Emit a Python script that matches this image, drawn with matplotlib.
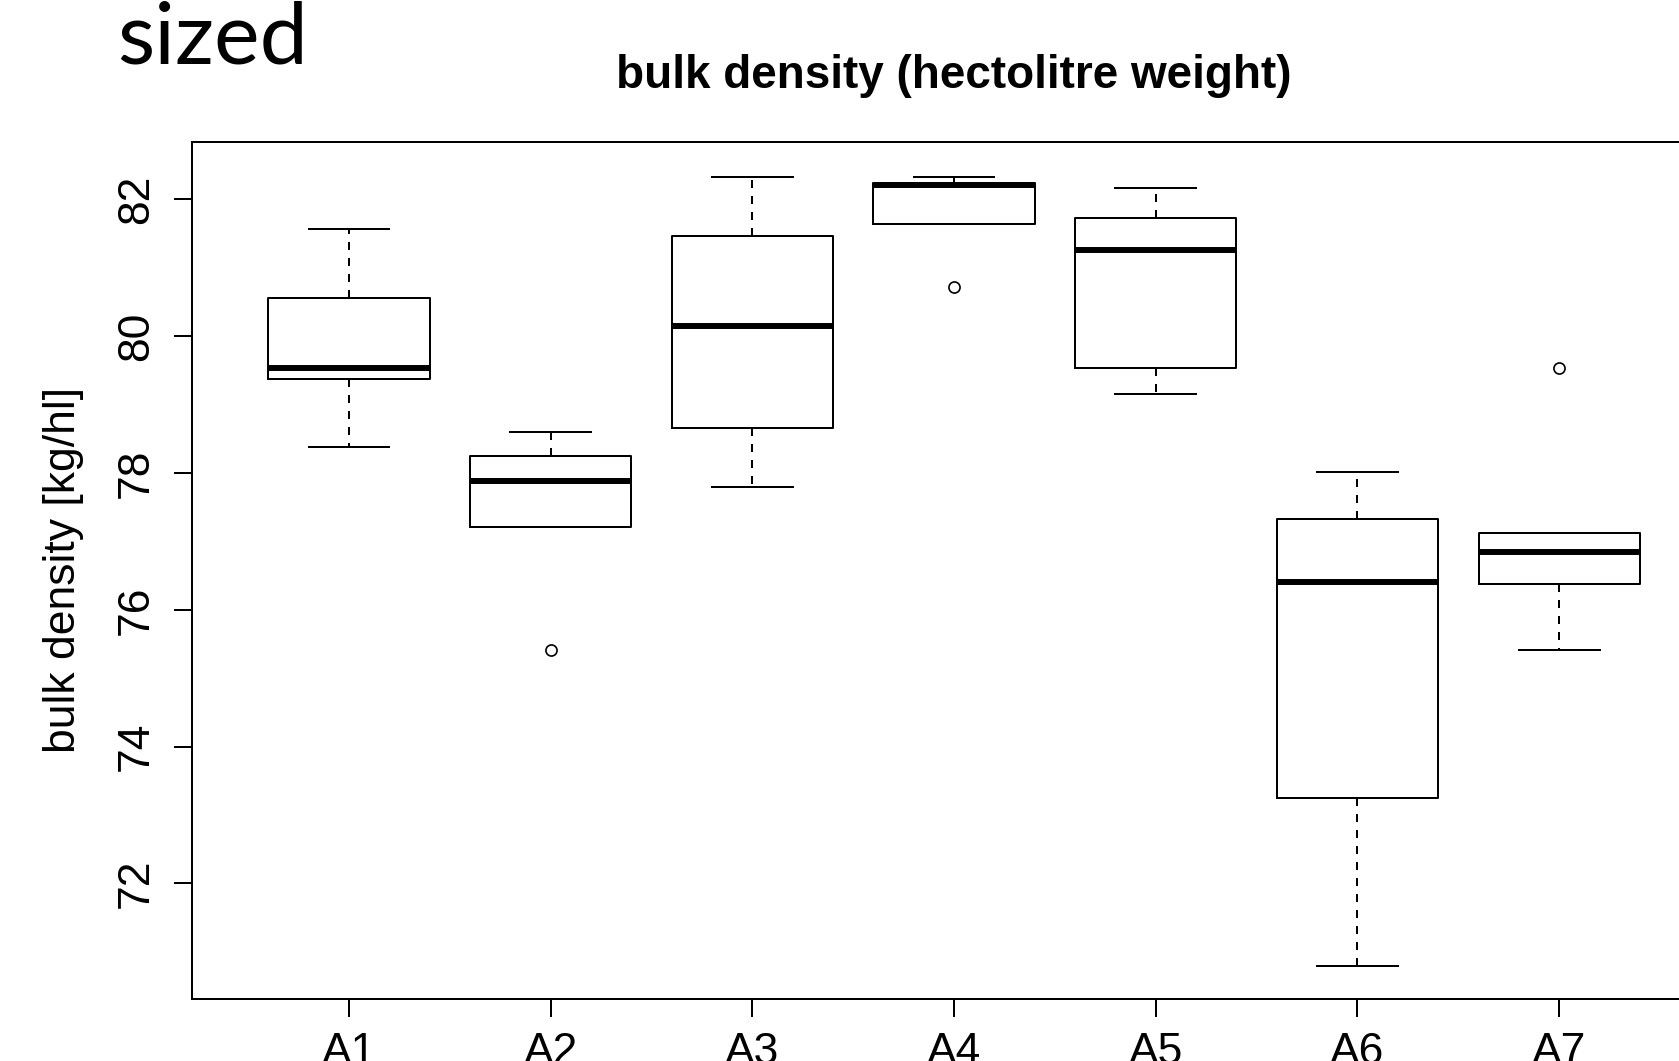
import matplotlib
matplotlib.use("Agg")
import matplotlib.pyplot as plt

# five-number summaries
groups = ["A1", "A2", "A3", "A4", "A5", "A6", "A7"]
whisker_low = [78.38, 77.21, 77.80, 81.64, 79.15, 70.80, 75.41]
q1 = [79.37, 77.21, 78.65, 81.64, 79.54, 73.25, 76.38]
median = [79.53, 77.88, 80.14, 82.21, 81.26, 76.40, 76.84]
q3 = [80.55, 78.25, 81.46, 82.24, 81.73, 77.33, 77.12]
whisker_high = [81.57, 78.60, 82.33, 82.33, 82.17, 78.02, 77.12]
outliers = [[], [75.41], [], [80.71], [], [], [79.53]]

yticks = [72, 74, 76, 78, 80, 82]

W, H = 1679, 1061
fig = plt.figure(figsize=(W / 100, H / 100), dpi=100)
fig.patch.set_facecolor("white")

# axes runs off the right edge like in the slide screenshot
left, right, top, bottom = 191.7, 1716.5, 142.4, 999.1
ax = fig.add_axes([left / W, (H - bottom) / H, (right - left) / W, (bottom - top) / H])

stats = []
for i, g in enumerate(groups):
    stats.append(dict(label=g, whislo=whisker_low[i], q1=q1[i], med=median[i],
                      q3=q3[i], whishi=whisker_high[i], fliers=outliers[i]))

lw = 1.44
ax.bxp(stats, positions=range(1, len(groups) + 1), widths=0.8, capwidths=0.4,
       boxprops=dict(color="black", linewidth=lw),
       medianprops=dict(color="black", linewidth=4.3, solid_capstyle="butt"),
       whiskerprops=dict(color="black", linewidth=lw, linestyle=(0, (4, 4))),
       capprops=dict(color="black", linewidth=lw),
       flierprops=dict(marker="o", markersize=8, markerfacecolor="none",
                       markeredgecolor="black", markeredgewidth=1.2))

ax.set_xlim(0.22, 7.78)
ax.set_ylim(70.31, 82.83)
ax.set_yticks(yticks)
ax.set_yticklabels([str(t) for t in yticks], rotation=90, va="center")

for s in ax.spines.values():
    s.set_linewidth(lw)
    s.set_color("black")

ax.tick_params(axis="both", direction="out", length=13, width=lw, labelsize=32,
               colors="black")
ax.tick_params(axis="y", pad=12)
ax.tick_params(axis="x", pad=10.8)
for lab in ax.get_xticklabels() + ax.get_yticklabels():
    lab.set_family("Liberation Sans")

fig.text(63 / W, 1 - 570 / H, "bulk density [kg/hl]", rotation=90,
         ha="center", va="center", fontsize=32, family="Liberation Sans")

fig.text(954 / W, 1 - 88 / H, "bulk density (hectolitre weight)",
         ha="center", va="baseline", fontsize=33, fontweight="bold",
         family="Liberation Sans")

fig.text(117 / W, 1 - 64 / H, "sized", ha="left", va="baseline",
         fontsize=62, family="Lato")

fig.savefig("out.png", dpi=100)
